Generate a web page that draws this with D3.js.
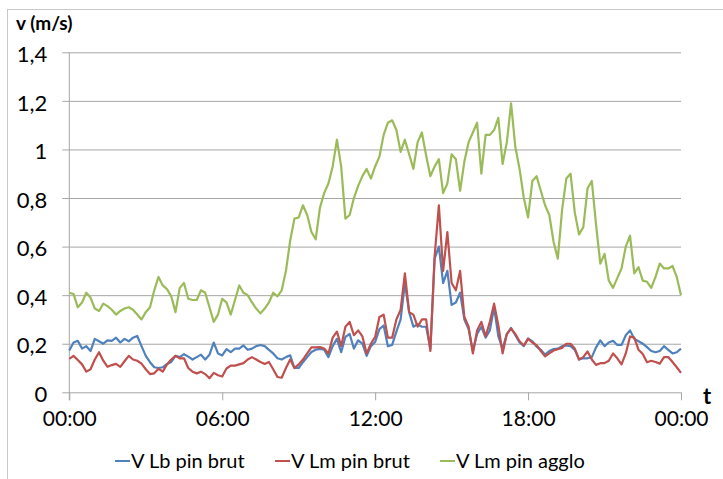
<!DOCTYPE html>
<html><head><meta charset="utf-8">
<script src="https://cdn.jsdelivr.net/npm/d3@7/dist/d3.min.js"></script>
<style>
html,body{margin:0;padding:0;background:#fff;}
svg{display:block;}
text{font-family:Lato,"Open Sans",sans-serif;fill:#000;}
</style></head>
<body>
<svg id="chart" width="723" height="479"></svg>
<script>
// sampling interval of the series (minutes)
const stepMinutes = 10;
const seriesNames = ["V Lb pin brut", "V Lm pin brut", "V Lm pin agglo"];
const seriesColors = ["#4F81BD", "#C0504D", "#9BBB59"];

const vLbBrut = [
.172,.205,.212,.18,.19,.17,.22,.21,.20,.214,
.212,.225,.205,.22,.21,.225,.232,.19,.15,.124,
.103,.10,.103,.117,.125,.15,.145,.157,.147,.135,
.145,.155,.135,.155,.205,.16,.152,.178,.165,.18,
.18,.193,.175,.18,.19,.195,.19,.175,.16,.14,
.135,.145,.152,.10,.10,.124,.145,.166,.175,.179,
.175,.145,.19,.22,.165,.228,.24,.18,.214,.20,
.15,.19,.207,.26,.275,.19,.195,.25,.30,.45,
.33,.27,.28,.27,.27,.18,.55,.60,.45,.50,
.36,.37,.41,.30,.26,.17,.24,.27,.225,.255,
.35,.23,.18,.24,.265,.235,.205,.19,.222,.21,
.188,.175,.155,.17,.178,.18,.19,.193,.19,.175,
.135,.14,.14,.145,.185,.214,.19,.205,.212,.195,
.195,.235,.255,.22,.21,.2,.186,.17,.165,.17,
.19,.175,.16,.165,.18];

const vLmBrut = [
.138,.15,.133,.115,.085,.095,.135,.165,.13,.105,
.112,.117,.105,.128,.15,.135,.13,.118,.095,.075,
.078,.097,.085,.115,.135,.15,.14,.14,.10,.085,
.078,.085,.075,.058,.08,.07,.065,.098,.11,.11,
.115,.12,.135,.145,.135,.125,.117,.125,.095,.063,
.06,.10,.135,.10,.115,.135,.16,.185,.185,.186,
.18,.16,.225,.25,.19,.27,.29,.235,.255,.23,
.16,.20,.228,.31,.32,.225,.225,.30,.34,.49,
.33,.32,.27,.30,.30,.17,.56,.77,.50,.66,
.45,.42,.50,.31,.27,.16,.255,.29,.23,.29,
.365,.275,.16,.24,.262,.24,.21,.193,.22,.205,
.194,.17,.148,.16,.172,.177,.183,.2,.2,.18,
.135,.145,.168,.135,.113,.12,.12,.13,.16,.14,
.115,.16,.23,.225,.175,.158,.124,.13,.125,.118,
.145,.145,.125,.103,.08];

const vLmAgglo = [
.41,.405,.35,.37,.41,.39,.345,.335,.365,.355,
.34,.32,.335,.345,.35,.34,.32,.30,.33,.35,
.42,.475,.44,.425,.395,.33,.43,.45,.385,.38,
.38,.42,.41,.35,.29,.32,.385,.37,.32,.38,
.44,.41,.40,.37,.345,.325,.345,.37,.41,.395,
.42,.50,.625,.715,.72,.77,.73,.66,.63,.76,
.82,.86,.93,1.04,.93,.715,.73,.80,.85,.89,
.92,.88,.93,.97,1.06,1.11,1.12,1.08,.99,1.04,
.98,.92,1.03,1.07,.975,.89,.93,.96,.82,.86,
.98,.96,.83,.95,1.03,1.07,1.11,.90,1.06,1.06,
1.08,1.13,.94,1.03,1.19,1.01,.92,.80,.72,.87,
.89,.83,.77,.73,.62,.55,.75,.88,.90,.74,
.65,.68,.84,.87,.69,.53,.57,.46,.43,.47,
.51,.60,.645,.49,.515,.46,.455,.43,.475,.53,
.51,.51,.52,.475,.40];

const xTickMinutes = [0, 360, 720, 1080, 1440];
const xTickLabels = ["00:00", "06:00", "12:00", "18:00", "00:00"];
const yTicks = [0, 0.2, 0.4, 0.6, 0.8, 1.0, 1.2, 1.4];
const yTickLabels = ["0", "0,2", "0,4", "0,6", "0,8", "1", "1,2", "1,4"];

const svg = d3.select("#chart");
const plotL = 69.3, plotR = 681, plotT = 52.3, plotB = 392.3;

const x = d3.scaleLinear().domain([0, 1440]).range([plotL, plotR]);
const y = d3.scaleLinear().domain([0, 1.4]).range([plotB, plotT]);

// outer chart frame
svg.append("rect").attr("x", 7.5).attr("y", 9.5).attr("width", 740).attr("height", 490)
  .attr("fill", "none").attr("stroke", "#c8c8c8").attr("stroke-width", 1);

// gridlines + y axis ticks
const yAxis = d3.axisLeft(y).tickValues(yTicks).tickSize(-(plotR - plotL)).tickSizeOuter(0)
  .tickFormat((d, i) => yTickLabels[i]);
const gy = svg.append("g").attr("transform", `translate(${plotL},0)`).call(yAxis);
gy.select(".domain").remove();
gy.selectAll(".tick line").attr("stroke", "#a6a6a6").attr("x1", -7).attr("stroke-width", 1);
gy.selectAll(".tick text").attr("x", -22).attr("dy", "0.42em").attr("fill", "#000")
  .style("font-size", "22px").style("font-family", "Lato, sans-serif");

// vertical axis line
svg.append("line").attr("x1", plotL).attr("x2", plotL).attr("y1", plotT).attr("y2", plotB + 8)
  .attr("stroke", "#a6a6a6");

// x axis
const xAxis = d3.axisBottom(x).tickValues(xTickMinutes).tickSize(8).tickSizeOuter(0)
  .tickFormat((d, i) => xTickLabels[i]);
const gx = svg.append("g").attr("transform", `translate(0,${plotB})`).call(xAxis);
gx.select(".domain").remove();
gx.selectAll(".tick line").attr("stroke", "#a6a6a6");
gx.selectAll(".tick text").attr("y", 19).attr("dy", "0.71em").attr("fill", "#000")
  .style("font-size", "21px").style("font-family", "Lato, sans-serif");

// series
const series = [vLbBrut, vLmBrut, vLmAgglo];
const line = d3.line().x((d, i) => x(i * stepMinutes)).y(d => y(d)).curve(d3.curveLinear);
series.forEach((s, k) => {
  svg.append("path").datum(s).attr("d", line).attr("fill", "none")
    .attr("stroke", seriesColors[k]).attr("stroke-width", 2.2).attr("stroke-linejoin", "round");
});

// axis titles
svg.append("text").attr("x", 16).attr("y", 30).style("font-size", "19px").style("font-weight", "bold")
  .text("v (m/s)");
svg.append("text").attr("x", 703).attr("y", 404).style("font-size", "22px").style("font-weight", "bold")
  .text("t");

// legend
const legendX = [115, 275, 440];
seriesNames.forEach((n, k) => {
  const g = svg.append("g").attr("transform", `translate(${legendX[k]},461)`);
  g.append("line").attr("x1", 0).attr("x2", 15).attr("y1", 0).attr("y2", 0)
    .attr("stroke", seriesColors[k]).attr("stroke-width", 2);
  g.append("text").attr("x", 16).attr("y", 0).attr("dy", "0.35em").style("font-size", "20px").text(n);
});
</script>
</body></html>
